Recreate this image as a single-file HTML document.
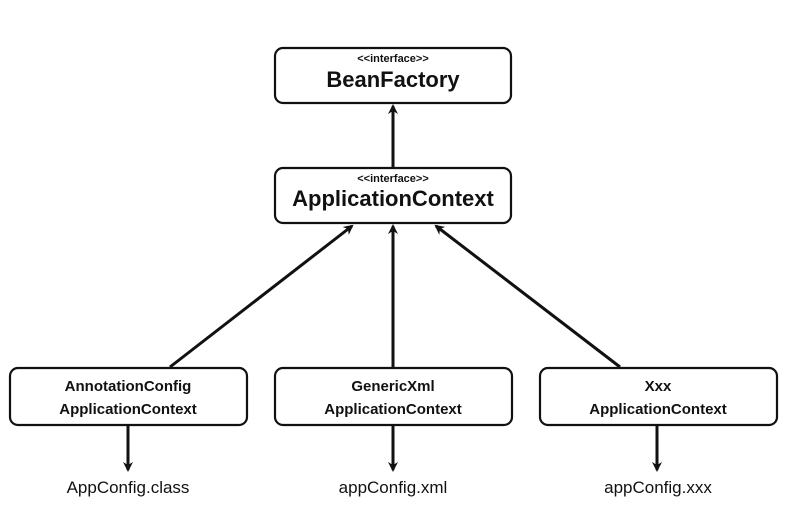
<!DOCTYPE html>
<html><head><style>
body{margin:0;background:#fff;}
svg text{font-family:"Liberation Sans",sans-serif;fill:#111;text-anchor:middle;}
</style></head><body>
<svg width="800" height="524" viewBox="0 0 800 524" xmlns="http://www.w3.org/2000/svg">
<defs>
<marker id="a" markerWidth="10" markerHeight="10" refX="8" refY="5" orient="auto" markerUnits="userSpaceOnUse" viewBox="0 0 10 10">
<path d="M0,0 L10,5 L0,10 L3,5 z" fill="#111"/>
</marker>
</defs>
<g fill="#fff" stroke="#111" stroke-width="2.2">
<rect x="275" y="48" width="236" height="55" rx="8"/>
<rect x="275" y="168" width="236" height="55" rx="8"/>
<rect x="10" y="368" width="237" height="57" rx="8"/>
<rect x="275" y="368" width="237" height="57" rx="8"/>
<rect x="540" y="368" width="237" height="57" rx="8"/>
</g>
<g stroke="#111" stroke-width="3" fill="none">
<line x1="393" y1="168" x2="393" y2="106" marker-end="url(#a)"/>
<line x1="170" y1="367" x2="352" y2="226" marker-end="url(#a)"/>
<line x1="393" y1="367" x2="393" y2="226" marker-end="url(#a)"/>
<line x1="620" y1="367" x2="436" y2="226" marker-end="url(#a)"/>
<line x1="128" y1="426" x2="128" y2="470" marker-end="url(#a)"/>
<line x1="393" y1="426" x2="393" y2="470" marker-end="url(#a)"/>
<line x1="657" y1="426" x2="657" y2="470" marker-end="url(#a)"/>
</g>
<text x="393" y="62" font-size="11" font-weight="bold">&lt;&lt;interface&gt;&gt;</text>
<text x="393" y="87" font-size="22" font-weight="bold">BeanFactory</text>
<text x="393" y="182" font-size="11" font-weight="bold">&lt;&lt;interface&gt;&gt;</text>
<text x="393" y="206" font-size="22" font-weight="bold">ApplicationContext</text>
<text x="128" y="391" font-size="15" font-weight="bold">AnnotationConfig</text>
<text x="128" y="414" font-size="15" font-weight="bold">ApplicationContext</text>
<text x="393" y="391" font-size="15" font-weight="bold">GenericXml</text>
<text x="393" y="414" font-size="15" font-weight="bold">ApplicationContext</text>
<text x="658" y="391" font-size="15" font-weight="bold">Xxx</text>
<text x="658" y="414" font-size="15" font-weight="bold">ApplicationContext</text>
<text x="128" y="493" font-size="17">AppConfig.class</text>
<text x="393" y="493" font-size="17">appConfig.xml</text>
<text x="658" y="493" font-size="17">appConfig.xxx</text>
</svg>
</body></html>
